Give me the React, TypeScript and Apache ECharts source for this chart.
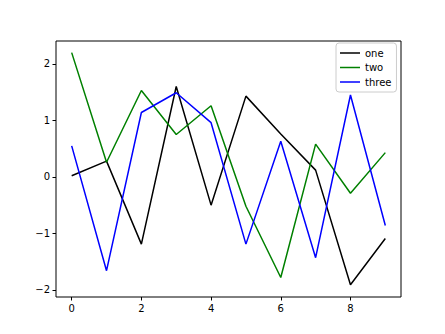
import React, { useEffect, useRef } from "react";
import * as echarts from "echarts";

const xValues = [0, 1, 2, 3, 4, 5, 6, 7, 8, 9];
const seriesOne = [0.02, 0.28, -1.19, 1.6, -0.5, 1.43, 0.76, 0.12, -1.91, -1.09];
const seriesTwo = [2.2, 0.26, 1.53, 0.75, 1.26, -0.52, -1.78, 0.58, -0.29, 0.43];
const seriesThree = [0.55, -1.66, 1.14, 1.49, 0.96, -1.19, 0.63, -1.43, 1.45, -0.86];
const seriesNames = ["one", "two", "three"];
const xTicks = [0, 2, 4, 6, 8];
const yTicks = [-2, -1, 0, 1, 2];

const fmt = (v: number) => (v < 0 ? "\u2212" + Math.abs(v) : String(v));

export default function App() {
  const ref = useRef<HTMLDivElement>(null);
  useEffect(() => {
    if (!ref.current) return;
    const chart = echarts.init(ref.current, undefined, { renderer: "svg" });
    const font = "DejaVu Sans";
    const mk = (name: string, data: number[], color: string) => ({
      name,
      type: "line",
      data: xValues.map((x, i) => [x, data[i]]),
      symbol: "none",
      lineStyle: { color, width: 1.5 },
      itemStyle: { color },
    });
    chart.setOption({
      animation: false,
      backgroundColor: "#ffffff",
      grid: {
        left: 56,
        right: 44,
        top: 41,
        bottom: 37,
        show: true,
        borderColor: "#000",
        borderWidth: 1,
        backgroundColor: "transparent",
      },
      legend: {
        data: seriesNames,
        orient: "vertical",
        left: 336,
        top: 43,
        itemWidth: 20,
        itemHeight: 10,
        itemGap: 4.5,
        padding: [5, 5, 5, 4],
        borderColor: "#cccccc",
        borderWidth: 1,
        borderRadius: 3,
        backgroundColor: "rgba(255,255,255,0.8)",
        textStyle: { fontFamily: font, fontSize: 10, color: "#000" },
        icon: "path://M0,0 L20,0 L20,1.5 L0,1.5 Z",
      },
      xAxis: {
        type: "value",
        min: -0.45,
        max: 9.45,
        axisLine: { show: false, onZero: false },
        splitLine: { show: false },
        axisTick: {
          show: true,
          inside: false,
          length: 3.5,
          lineStyle: { color: "#000" },
          customValues: xTicks,
        },
        axisLabel: {
          fontFamily: font,
          fontSize: 10,
          color: "#000",
          margin: 6,
          customValues: xTicks,
          formatter: (v: number) => fmt(v),
        },
      },
      yAxis: {
        type: "value",
        min: -2.126,
        max: 2.406,
        axisLine: { show: false, onZero: false },
        splitLine: { show: false },
        axisTick: {
          show: true,
          inside: false,
          length: 3.5,
          lineStyle: { color: "#000" },
          customValues: yTicks,
        },
        axisLabel: {
          fontFamily: font,
          fontSize: 10,
          color: "#000",
          margin: 6,
          customValues: yTicks,
          formatter: (v: number) => fmt(v),
        },
      },
      series: [
        mk(seriesNames[0], seriesOne, "#000000"),
        mk(seriesNames[1], seriesTwo, "#008000"),
        mk(seriesNames[2], seriesThree, "#0000ff"),
      ],
    });
    return () => chart.dispose();
  }, []);
  return (
    <div
      ref={ref}
      style={{ position: "fixed", left: 0, top: 0, width: 445, height: 334, background: "#fff" }}
    />
  );
}
